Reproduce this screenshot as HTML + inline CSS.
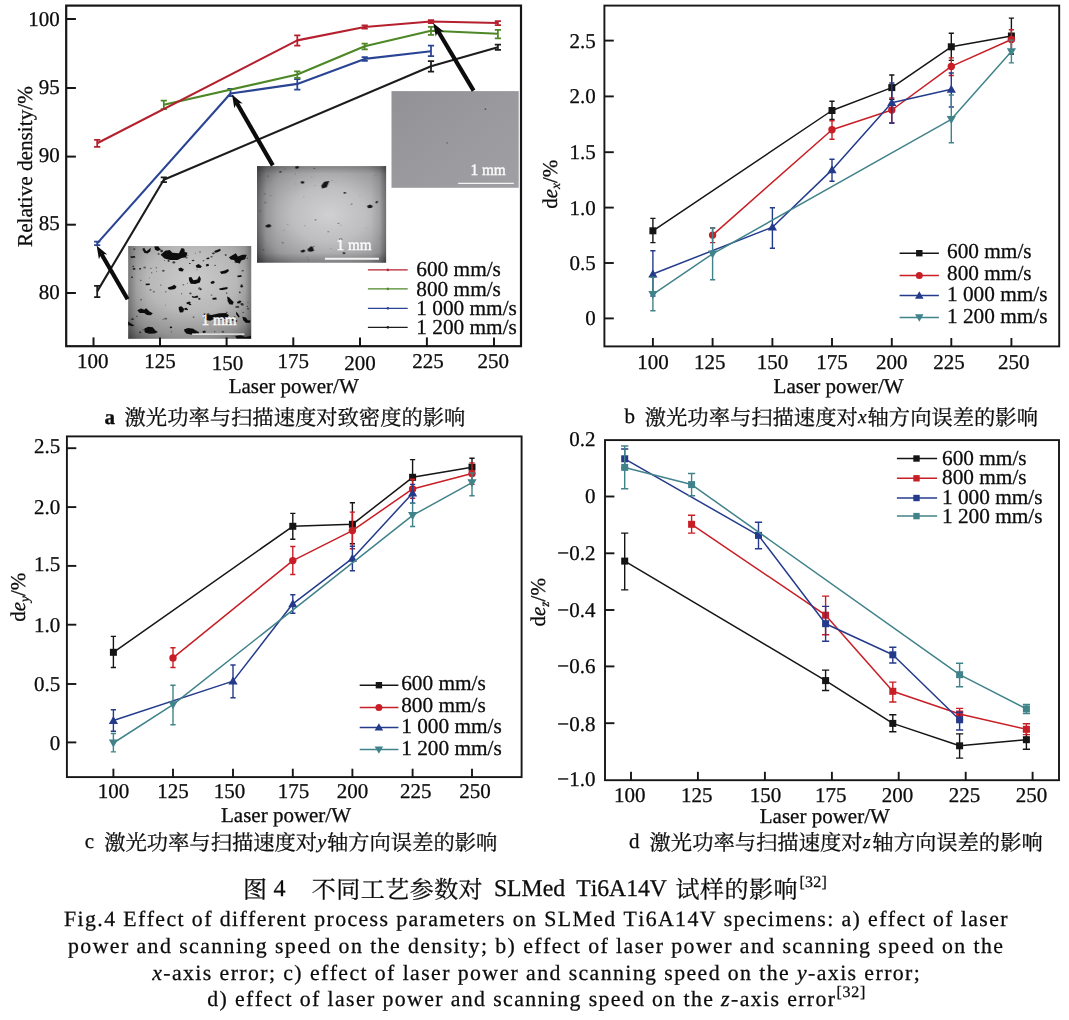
<!DOCTYPE html>
<html lang="zh">
<head>
<meta charset="utf-8">
<title>Fig.4 Effect of different process parameters on SLMed Ti6A14V specimens</title>
<style>
html,body{margin:0;padding:0;background:#ffffff;}
body{width:1069px;height:1020px;overflow:hidden;}
svg{display:block;}
svg text{font-family:"Liberation Serif","Noto Serif CJK SC",serif;fill:#0c0c0c;stroke:#0c0c0c;stroke-width:0.28px;text-rendering:geometricPrecision;font-kerning:none;}
</style>
</head>
<body>
<svg width="1069" height="1020" viewBox="0 0 1069 1020">
<rect width="1069" height="1020" fill="#ffffff"/>
<defs>
<radialGradient id="ig1" cx="0.52" cy="0.36" r="0.86"><stop offset="0" stop-color="#cbcbcb"/><stop offset="0.42" stop-color="#b8b8b8"/><stop offset="0.74" stop-color="#909090"/><stop offset="1" stop-color="#484848"/></radialGradient>
<radialGradient id="ig2" cx="0.56" cy="0.5" r="0.76"><stop offset="0" stop-color="#d0d0d2"/><stop offset="0.38" stop-color="#bebec0"/><stop offset="0.72" stop-color="#98989a"/><stop offset="1" stop-color="#5c5c5e"/></radialGradient>
<linearGradient id="ig3" x1="0" y1="0" x2="1" y2="1"><stop offset="0" stop-color="#929195"/><stop offset="0.5" stop-color="#9a999d"/><stop offset="1" stop-color="#a09fa3"/></linearGradient>
<linearGradient id="edgeh" x1="0" y1="0" x2="1" y2="0"><stop offset="0" stop-color="#000" stop-opacity="0.32"/><stop offset="0.07" stop-color="#000" stop-opacity="0.06"/><stop offset="0.16" stop-color="#000" stop-opacity="0"/><stop offset="0.88" stop-color="#000" stop-opacity="0"/><stop offset="0.95" stop-color="#000" stop-opacity="0.08"/><stop offset="1" stop-color="#000" stop-opacity="0.34"/></linearGradient>
<linearGradient id="edgev" x1="0" y1="0" x2="0" y2="1"><stop offset="0" stop-color="#000" stop-opacity="0.18"/><stop offset="0.08" stop-color="#000" stop-opacity="0"/><stop offset="0.9" stop-color="#000" stop-opacity="0"/><stop offset="1" stop-color="#000" stop-opacity="0.2"/></linearGradient>
<filter id="bl1" x="-5%" y="-5%" width="110%" height="110%"><feGaussianBlur stdDeviation="4.5"/></filter>
</defs>
<polyline fill="none" stroke="#1c1c1c" stroke-width="2.1" stroke-linejoin="round" points="97.2,291.4 163.8,179.8 431,66.2 497.9,47.2"/>
<path fill="none" stroke="#1c1c1c" stroke-width="1.75" d="M97.2 285.9V297.2M94.1 285.9H100.3M94.1 297.2H100.3"/>
<path fill="none" stroke="#1c1c1c" stroke-width="1.75" d="M163.8 177.4V182.2M160.7 177.4H166.9M160.7 182.2H166.9"/>
<path fill="none" stroke="#1c1c1c" stroke-width="1.75" d="M431 61.1V71.5M427.9 61.1H434.1M427.9 71.5H434.1"/>
<path fill="none" stroke="#1c1c1c" stroke-width="1.75" d="M497.9 44.6V49.8M494.8 44.6H501M494.8 49.8H501"/>
<polyline fill="none" stroke="#2a4494" stroke-width="2.1" stroke-linejoin="round" points="97.2,243.4 230.5,93.5 297.3,83.9 364.7,58.9 431,51.3"/>
<path fill="none" stroke="#2a4494" stroke-width="1.75" d="M97.2 241.6V245.2M94.1 241.6H100.3M94.1 245.2H100.3"/>
<path fill="none" stroke="#2a4494" stroke-width="1.75" d="M230.5 88.9V96.2M227.4 88.9H233.6M227.4 96.2H233.6"/>
<path fill="none" stroke="#2a4494" stroke-width="1.75" d="M297.3 79.2V89.5M294.2 79.2H300.4M294.2 89.5H300.4"/>
<path fill="none" stroke="#2a4494" stroke-width="1.75" d="M364.7 57.2V60.8M361.6 57.2H367.8M361.6 60.8H367.8"/>
<path fill="none" stroke="#2a4494" stroke-width="1.75" d="M431 45.6V56.2M427.9 45.6H434.1M427.9 56.2H434.1"/>
<polyline fill="none" stroke="#4d8726" stroke-width="2.1" stroke-linejoin="round" points="163.8,104.8 297.3,74.5 364.7,46.3 431,30.8 497.9,33.8"/>
<path fill="none" stroke="#4d8726" stroke-width="1.75" d="M163.8 100.6V109M160.7 100.6H166.9M160.7 109H166.9"/>
<path fill="none" stroke="#4d8726" stroke-width="1.75" d="M297.3 71.4V77.8M294.2 71.4H300.4M294.2 77.8H300.4"/>
<path fill="none" stroke="#4d8726" stroke-width="1.75" d="M364.7 43.5V49.3M361.6 43.5H367.8M361.6 49.3H367.8"/>
<path fill="none" stroke="#4d8726" stroke-width="1.75" d="M431 26.8V34.8M427.9 26.8H434.1M427.9 34.8H434.1"/>
<path fill="none" stroke="#4d8726" stroke-width="1.75" d="M497.9 29.8V38.4M494.8 29.8H501M494.8 38.4H501"/>
<polyline fill="none" stroke="#b5202e" stroke-width="2.1" stroke-linejoin="round" points="97.2,143.2 297.3,40.4 364.7,27 431,21.5 497.9,23"/>
<path fill="none" stroke="#b5202e" stroke-width="1.75" d="M97.2 139.8V146.8M94.1 139.8H100.3M94.1 146.8H100.3"/>
<path fill="none" stroke="#b5202e" stroke-width="1.75" d="M297.3 35.3V45.5M294.2 35.3H300.4M294.2 45.5H300.4"/>
<path fill="none" stroke="#b5202e" stroke-width="1.75" d="M364.7 25.4V28.6M361.6 25.4H367.8M361.6 28.6H367.8"/>
<path fill="none" stroke="#b5202e" stroke-width="1.75" d="M431 20V23M427.9 20H434.1M427.9 23H434.1"/>
<path fill="none" stroke="#b5202e" stroke-width="1.75" d="M497.9 21V25M494.8 21H501M494.8 25H501"/>
<g><rect x="128.2" y="246.0" width="123" height="92.8" fill="url(#ig1)"/><rect x="128.2" y="246.0" width="123" height="92.8" fill="url(#edgeh)" opacity="0.8"/><g transform="translate(120 235) scale(0.13096)" fill="#0d0d0d" filter="url(#bl1)"><path d="M310 150 L345 120 L380 115 L400 135 L450 140 L470 100 L490 105 L495 130 L515 135 L505 170 L470 175 L440 190 L380 190 L340 180 Z"/><path d="M170 105 L185 100 L200 125 L220 110 L235 95 L232 125 L210 142 L185 135 Z"/><path d="M262 88 L290 85 L312 110 L290 122 L268 112 Z"/><path d="M832 170 L865 150 L885 140 L900 165 L935 150 L968 150 L955 185 L925 195 L915 218 L885 210 L870 190 L845 188 Z"/><path d="M578 232 L600 222 L625 238 L615 252 L585 250 Z"/><path d="M445 258 L465 248 L488 262 L478 278 L452 275 Z"/><path d="M655 225 L675 220 L680 235 L660 240 Z"/><path d="M525 325 L545 320 L560 345 L590 340 L605 312 L618 335 L610 362 L575 375 L540 372 L528 350 Z"/><path d="M762 280 L800 272 L825 260 L832 275 L810 292 L775 298 Z"/><path d="M365 400 L395 392 L415 380 L432 395 L420 412 L385 418 L368 412 Z"/><path d="M692 358 L712 350 L725 360 L712 372 L695 372 Z"/><path d="M758 408 L795 400 L822 398 L820 412 L785 420 L762 420 Z"/><path d="M818 470 L835 478 L850 495 L868 512 L860 532 L835 528 L822 505 Z"/><path d="M893 512 L915 500 L928 505 L915 522 L897 524 Z"/><path d="M448 550 L470 545 L490 565 L482 590 L458 592 L450 572 Z"/><path d="M508 515 L530 508 L542 518 L528 528 L510 527 Z"/><path d="M490 560 L510 555 L515 568 L495 575 Z"/><path d="M132 575 L160 562 L185 570 L200 560 L225 585 L250 598 L235 612 L205 610 L185 595 L150 595 Z"/><path d="M640 600 L700 610 L760 598 L810 595 L832 612 L815 640 L770 645 L720 640 L690 655 L655 650 L640 625 Z"/><path d="M935 625 L960 630 L975 650 L998 655 L990 672 L960 670 L940 650 Z"/><path d="M185 715 L215 700 L250 705 L270 730 L290 740 L265 752 L225 755 L190 745 Z"/><path d="M488 722 L520 710 L560 715 L585 735 L605 740 L580 755 L545 760 L510 755 L495 740 Z"/><path d="M880 772 L920 765 L960 778 L1000 770 L1000 790 L890 790 Z"/><path d="M62 660 L90 680 L110 690 L95 696 L62 690 Z"/><path d="M95 255 L115 252 L118 264 L100 266 Z"/><path d="M78 165 L112 160 L118 172 L85 176 Z"/><path d="M720 122 L745 112 L765 105 L768 120 L745 132 L725 135 Z"/><path d="M548 465 L570 470 L590 462 L600 475 L575 482 L552 478 Z"/><path d="M195 372 L225 370 L228 382 L198 384 Z"/><path d="M705 482 L735 478 L738 492 L708 494 Z"/><path d="M885 585 L900 600 L915 625 L905 630 L888 608 Z"/><path d="M600 480 L615 485 L612 495 L598 492 Z"/><path d="M380 700 L395 698 L398 710 L382 712 Z"/><path d="M630 735 L650 730 L655 745 L635 748 Z"/><path d="M895 312 L925 305 L930 318 L900 322 Z"/><path d="M145 255 L160 252 L162 262 L147 264 Z"/><path d="M660 175 L680 172 L682 184 L662 186 Z"/><ellipse cx="371" cy="198" rx="7.3" ry="7" opacity="0.86"/><ellipse cx="161" cy="494" rx="7.0" ry="6" opacity="0.49"/><ellipse cx="458" cy="260" rx="8.0" ry="6" opacity="0.86"/><ellipse cx="188" cy="248" rx="10.3" ry="7" opacity="0.48"/><ellipse cx="611" cy="129" rx="4.1" ry="4" opacity="0.88"/><ellipse cx="340" cy="194" rx="4.4" ry="3" opacity="0.73"/><ellipse cx="699" cy="166" rx="9.1" ry="6" opacity="0.64"/><ellipse cx="576" cy="138" rx="4.5" ry="3" opacity="0.70"/><ellipse cx="562" cy="627" rx="7.3" ry="5" opacity="0.68"/><ellipse cx="349" cy="639" rx="11.4" ry="7" opacity="0.49"/><ellipse cx="350" cy="434" rx="6.3" ry="4" opacity="0.59"/><ellipse cx="972" cy="176" rx="5.7" ry="5" opacity="0.62"/><ellipse cx="929" cy="384" rx="7.4" ry="7" opacity="0.73"/><ellipse cx="797" cy="656" rx="6.2" ry="4" opacity="0.75"/><ellipse cx="606" cy="408" rx="9.7" ry="9" opacity="0.58"/><ellipse cx="713" cy="140" rx="10.9" ry="7" opacity="0.77"/><ellipse cx="984" cy="658" rx="6.3" ry="4" opacity="0.89"/><ellipse cx="393" cy="739" rx="4.5" ry="4" opacity="0.51"/><ellipse cx="129" cy="621" rx="6.4" ry="4" opacity="0.65"/><ellipse cx="914" cy="435" rx="5.4" ry="4" opacity="0.72"/><ellipse cx="883" cy="656" rx="13.0" ry="9" opacity="0.80"/><ellipse cx="978" cy="563" rx="8.8" ry="5" opacity="0.53"/><ellipse cx="236" cy="254" rx="4.0" ry="4" opacity="0.87"/><ellipse cx="242" cy="288" rx="5.3" ry="4" opacity="0.63"/><ellipse cx="593" cy="748" rx="11.8" ry="7" opacity="0.93"/><ellipse cx="674" cy="602" rx="8.6" ry="5" opacity="0.84"/><ellipse cx="875" cy="642" rx="6.6" ry="5" opacity="0.65"/><ellipse cx="516" cy="369" rx="4.2" ry="4" opacity="0.55"/><ellipse cx="224" cy="328" rx="3.2" ry="3" opacity="0.73"/><ellipse cx="566" cy="745" rx="6.1" ry="6" opacity="0.89"/><ellipse cx="637" cy="197" rx="7.1" ry="4" opacity="0.75"/><ellipse cx="509" cy="174" rx="9.0" ry="5" opacity="0.68"/><ellipse cx="518" cy="154" rx="4.8" ry="3" opacity="0.82"/><ellipse cx="513" cy="569" rx="6.1" ry="6" opacity="0.93"/><ellipse cx="558" cy="195" rx="10.4" ry="6" opacity="0.83"/><ellipse cx="348" cy="535" rx="4.7" ry="3" opacity="0.58"/><ellipse cx="411" cy="209" rx="10.6" ry="9" opacity="0.72"/><ellipse cx="535" cy="531" rx="9.9" ry="6" opacity="0.94"/><ellipse cx="855" cy="647" rx="11.9" ry="9" opacity="0.85"/><ellipse cx="258" cy="433" rx="7.2" ry="7" opacity="0.46"/><ellipse cx="331" cy="273" rx="10.4" ry="7" opacity="0.62"/><ellipse cx="815" cy="590" rx="7.1" ry="4" opacity="0.63"/><ellipse cx="277" cy="250" rx="5.1" ry="4" opacity="0.69"/><ellipse cx="977" cy="513" rx="4.2" ry="3" opacity="0.78"/><ellipse cx="807" cy="153" rx="7.7" ry="7" opacity="0.64"/><ellipse cx="726" cy="232" rx="5.4" ry="4" opacity="0.77"/><ellipse cx="154" cy="743" rx="9.2" ry="7" opacity="0.65"/><ellipse cx="941" cy="591" rx="7.2" ry="4" opacity="0.46"/><ellipse cx="616" cy="414" rx="7.8" ry="7" opacity="0.86"/><ellipse cx="972" cy="545" rx="4.5" ry="4" opacity="0.72"/><ellipse cx="95" cy="643" rx="10.6" ry="7" opacity="0.71"/><ellipse cx="929" cy="392" rx="10.4" ry="9" opacity="0.89"/><ellipse cx="101" cy="241" rx="7.2" ry="6" opacity="0.74"/><ellipse cx="312" cy="382" rx="4.2" ry="4" opacity="0.82"/><ellipse cx="896" cy="549" rx="15.5" ry="9" opacity="0.66"/><ellipse cx="915" cy="439" rx="6.7" ry="6" opacity="0.71"/><ellipse cx="874" cy="627" rx="6.0" ry="6" opacity="0.85"/><ellipse cx="233" cy="419" rx="7.7" ry="7" opacity="0.48"/><ellipse cx="699" cy="459" rx="8.1" ry="5" opacity="0.50"/><ellipse cx="588" cy="265" rx="4.1" ry="4" opacity="0.50"/><ellipse cx="489" cy="114" rx="4.1" ry="3" opacity="0.76"/><ellipse cx="538" cy="446" rx="8.6" ry="7" opacity="0.70"/><ellipse cx="814" cy="443" rx="6.2" ry="4" opacity="0.89"/><ellipse cx="937" cy="273" rx="10.3" ry="6" opacity="0.55"/><ellipse cx="484" cy="380" rx="6.8" ry="5" opacity="0.49"/><ellipse cx="295" cy="145" rx="8.7" ry="7" opacity="0.51"/><ellipse cx="786" cy="739" rx="10.7" ry="7" opacity="0.52"/><ellipse cx="883" cy="758" rx="6.4" ry="4" opacity="0.50"/><ellipse cx="885" cy="207" rx="11.7" ry="7" opacity="0.53"/><ellipse cx="470" cy="448" rx="5.3" ry="4" opacity="0.63"/><ellipse cx="159" cy="346" rx="5.8" ry="4" opacity="0.67"/><ellipse cx="92" cy="322" rx="7.4" ry="6" opacity="0.93"/><ellipse cx="178" cy="724" rx="7.1" ry="4" opacity="0.50"/><ellipse cx="318" cy="122" rx="10.3" ry="9" opacity="0.83"/><ellipse cx="825" cy="677" rx="11.6" ry="7" opacity="0.58"/><ellipse cx="212" cy="725" rx="8.4" ry="6" opacity="0.61"/><ellipse cx="330" cy="643" rx="5.4" ry="4" opacity="0.49"/><ellipse cx="934" cy="530" rx="10.9" ry="9" opacity="0.75"/><ellipse cx="279" cy="276" rx="4.1" ry="3" opacity="0.62"/><ellipse cx="581" cy="730" rx="6.0" ry="4" opacity="0.47"/><ellipse cx="724" cy="738" rx="4.8" ry="4" opacity="0.54"/><ellipse cx="928" cy="526" rx="9.6" ry="6" opacity="0.59"/><ellipse cx="533" cy="217" rx="6.6" ry="4" opacity="0.95"/><ellipse cx="109" cy="108" rx="8.6" ry="6" opacity="0.54"/><ellipse cx="509" cy="735" rx="4.6" ry="3" opacity="0.78"/></g><line x1="192" y1="334.1" x2="244.4" y2="334.1" stroke="#f4f4f4" stroke-width="1.4" /><text x="201.6" y="325.2" font-size="16" style="fill:#fafafa;stroke:#fafafa;stroke-width:0.45px" textLength="35" lengthAdjust="spacingAndGlyphs">1 mm</text></g>
<g><rect x="257.0" y="166.1" width="129.1" height="96.6" fill="url(#ig2)"/><rect x="257.0" y="166.1" width="129.1" height="96.6" fill="url(#edgeh)"/><rect x="257.0" y="166.1" width="129.1" height="96.6" fill="url(#edgev)"/><g transform="translate(250 160) scale(0.13565)" fill="#141414" filter="url(#bl1)"><path d="M525 190 L548 160 L585 155 L565 200 L532 210 Z"/><path d="M373 160 L392 154 L402 165 L390 174 L375 172 Z"/><path d="M333 50 L352 44 L362 54 L350 64 L336 62 Z"/><path d="M862 338 L885 328 L905 338 L898 352 L872 356 Z"/><path d="M113 482 L140 472 L156 482 L150 496 L120 498 Z"/><path d="M425 655 L450 636 L462 640 L472 668 L450 676 L428 672 Z"/><path d="M373 668 L395 660 L408 668 L398 680 L378 682 Z"/><path d="M218 82 L228 80 L230 92 L220 94 Z"/><path d="M925 310 L938 300 L944 308 L932 322 Z"/><path d="M690 238 L705 236 L707 246 L692 248 Z"/><path d="M660 580 L675 578 L677 590 L662 592 Z"/><path d="M685 680 L698 678 L700 692 L687 694 Z"/><ellipse cx="483" cy="441" rx="5.1" ry="4" opacity="0.73"/><ellipse cx="241" cy="610" rx="5.5" ry="4" opacity="0.70"/><ellipse cx="152" cy="264" rx="3.3" ry="2.5" opacity="0.75"/><ellipse cx="652" cy="466" rx="6.3" ry="4" opacity="0.63"/><ellipse cx="634" cy="164" rx="3.7" ry="2.5" opacity="0.33"/><ellipse cx="98" cy="662" rx="5.1" ry="5" opacity="0.53"/><ellipse cx="472" cy="636" rx="5.7" ry="5" opacity="0.45"/><ellipse cx="69" cy="114" rx="3.7" ry="3" opacity="0.58"/><ellipse cx="927" cy="112" rx="3.6" ry="3" opacity="0.41"/><ellipse cx="332" cy="103" rx="3.1" ry="2.5" opacity="0.72"/><ellipse cx="423" cy="716" rx="2.8" ry="2.5" opacity="0.76"/><ellipse cx="113" cy="314" rx="5.0" ry="4" opacity="0.58"/><ellipse cx="249" cy="521" rx="3.2" ry="3" opacity="0.47"/><ellipse cx="957" cy="578" rx="2.7" ry="2.5" opacity="0.65"/><ellipse cx="75" cy="376" rx="4.4" ry="4" opacity="0.58"/><ellipse cx="479" cy="187" rx="3.8" ry="3" opacity="0.49"/><ellipse cx="430" cy="738" rx="2.9" ry="2.5" opacity="0.79"/><ellipse cx="808" cy="265" rx="2.8" ry="2.5" opacity="0.50"/><ellipse cx="855" cy="498" rx="2.6" ry="2.5" opacity="0.37"/><ellipse cx="473" cy="62" rx="6.0" ry="5" opacity="0.45"/><ellipse cx="133" cy="117" rx="6.9" ry="5" opacity="0.31"/><ellipse cx="406" cy="484" rx="4.7" ry="3" opacity="0.54"/><ellipse cx="596" cy="653" rx="4.1" ry="3" opacity="0.46"/><ellipse cx="276" cy="476" rx="3.3" ry="3" opacity="0.61"/><ellipse cx="577" cy="529" rx="6.1" ry="4" opacity="0.60"/><ellipse cx="455" cy="127" rx="3.3" ry="2.5" opacity="0.43"/><ellipse cx="749" cy="325" rx="6.0" ry="4" opacity="0.60"/><ellipse cx="336" cy="176" rx="2.7" ry="2.5" opacity="0.54"/><ellipse cx="669" cy="480" rx="2.9" ry="2.5" opacity="0.76"/><ellipse cx="254" cy="66" rx="3.7" ry="3" opacity="0.42"/><ellipse cx="108" cy="250" rx="6.7" ry="5" opacity="0.37"/><ellipse cx="400" cy="670" rx="4.2" ry="3" opacity="0.65"/><ellipse cx="606" cy="152" rx="3.9" ry="2.5" opacity="0.54"/><ellipse cx="396" cy="270" rx="2.5" ry="2.5" opacity="0.62"/></g><line x1="324.9" y1="258.8" x2="378.9" y2="258.8" stroke="#f4f4f4" stroke-width="1.9" /><text x="336.6" y="249.6" font-size="16" style="fill:#fafafa;stroke:#fafafa;stroke-width:0.45px" textLength="35" lengthAdjust="spacingAndGlyphs">1 mm</text></g>
<g><rect x="391.5" y="91.1" width="127.2" height="96.7" fill="url(#ig3)"/><circle cx="485.4" cy="109.1" r="0.9" fill="#555"/><circle cx="447.1" cy="142.9" r="0.8" fill="#666"/><line x1="458.2" y1="183.3" x2="513.9" y2="183.3" stroke="#f4f4f4" stroke-width="1.3" /><text x="470.4" y="175.3" font-size="16" style="fill:#fafafa;stroke:#fafafa;stroke-width:0.45px" textLength="35.4" lengthAdjust="spacingAndGlyphs">1 mm</text></g>
<line x1="127.6" y1="299.3" x2="101.28" y2="253.71" stroke="#0c0c0c" stroke-width="4.2" /><path fill="#0c0c0c" d="M96.6 245.6 L107.26 254.46 L101.28 253.71 L98.94 259.26Z"/>
<line x1="272.8" y1="165.4" x2="236.67" y2="102.71" stroke="#0c0c0c" stroke-width="4.2" /><path fill="#0c0c0c" d="M232 94.6 L242.65 103.47 L236.67 102.71 L234.33 108.26Z"/>
<line x1="473.6" y1="90.6" x2="438" y2="31.03" stroke="#0c0c0c" stroke-width="4.2" /><path fill="#0c0c0c" d="M433.2 23 L443.99 31.7 L438 31.03 L435.75 36.62Z"/>
<rect x="66.2" y="5.6" width="454.8" height="340.6" fill="none" stroke="#161616" stroke-width="2.2"/>
<line x1="66.2" y1="19" x2="75.9" y2="19" stroke="#161616" stroke-width="2.0" />
<line x1="66.2" y1="88" x2="75.9" y2="88" stroke="#161616" stroke-width="2.0" />
<line x1="66.2" y1="156.6" x2="75.9" y2="156.6" stroke="#161616" stroke-width="2.0" />
<line x1="66.2" y1="224.7" x2="75.9" y2="224.7" stroke="#161616" stroke-width="2.0" />
<line x1="66.2" y1="293" x2="75.9" y2="293" stroke="#161616" stroke-width="2.0" />
<line x1="93.5" y1="346.2" x2="93.5" y2="337.4" stroke="#161616" stroke-width="2.0" />
<line x1="160" y1="346.2" x2="160" y2="337.4" stroke="#161616" stroke-width="2.0" />
<line x1="226.6" y1="346.2" x2="226.6" y2="337.4" stroke="#161616" stroke-width="2.0" />
<line x1="293.3" y1="346.2" x2="293.3" y2="337.4" stroke="#161616" stroke-width="2.0" />
<line x1="360" y1="346.2" x2="360" y2="337.4" stroke="#161616" stroke-width="2.0" />
<line x1="426.9" y1="346.2" x2="426.9" y2="337.4" stroke="#161616" stroke-width="2.0" />
<line x1="494" y1="346.2" x2="494" y2="337.4" stroke="#161616" stroke-width="2.0" />
<text x="59.8" y="25.6" font-size="21" text-anchor="end" >100</text>
<text x="59.8" y="93.7" font-size="21" text-anchor="end" >95</text>
<text x="59.8" y="162.4" font-size="21" text-anchor="end" >90</text>
<text x="59.8" y="230.2" font-size="21" text-anchor="end" >85</text>
<text x="59.8" y="298.8" font-size="21" text-anchor="end" >80</text>
<text x="92.7" y="368" font-size="21" text-anchor="middle" >100</text>
<text x="160" y="367.5" font-size="21" text-anchor="middle" >125</text>
<text x="227.5" y="369.6" font-size="21" text-anchor="middle" >150</text>
<text x="293.3" y="367.6" font-size="21" text-anchor="middle" >175</text>
<text x="360" y="369.5" font-size="21" text-anchor="middle" >200</text>
<text x="427.9" y="367.6" font-size="21" text-anchor="middle" >225</text>
<text x="493.2" y="368.2" font-size="21" text-anchor="middle" >250</text>
<text x="228.7" y="392.6" font-size="21" text-anchor="start" >Laser power/W</text>
<text transform="translate(31.9 247.0) rotate(-90)" font-size="21.2" textLength="160.8" lengthAdjust="spacingAndGlyphs">Relative density/%</text>
<line x1="367.9" y1="269.9" x2="407.7" y2="269.9" stroke="#b5202e" stroke-width="1.35" />
<rect x="386.8" y="268.7" width="2" height="2.4" fill="#b5202e"/>
<text x="416.3" y="276.4" font-size="21.3" text-anchor="start" >600 mm/s</text>
<line x1="367.9" y1="288.9" x2="407.7" y2="288.9" stroke="#4d8726" stroke-width="1.35" />
<rect x="386.8" y="287.7" width="2" height="2.4" fill="#4d8726"/>
<text x="416.3" y="295.6" font-size="21.3" text-anchor="start" >800 mm/s</text>
<line x1="367.9" y1="308.3" x2="407.7" y2="308.3" stroke="#2a4494" stroke-width="1.35" />
<rect x="386.8" y="307.1" width="2" height="2.4" fill="#2a4494"/>
<text x="416.3" y="314.8" font-size="21.3" text-anchor="start" >1 000 mm/s</text>
<line x1="367.9" y1="327.3" x2="407.7" y2="327.3" stroke="#1c1c1c" stroke-width="1.35" />
<rect x="386.8" y="326.1" width="2" height="2.4" fill="#1c1c1c"/>
<text x="416.3" y="334" font-size="21.3" text-anchor="start" >1 200 mm/s</text>
<polyline fill="none" stroke="#151515" stroke-width="1.5" stroke-linejoin="round" points="652.9,230.8 832,110.5 891.8,87.6 951.3,46.8 1011.4,36"/>
<rect x="649.4" y="227.3" width="7" height="7" fill="#151515"/>
<rect x="828.5" y="107" width="7" height="7" fill="#151515"/>
<rect x="888.3" y="84.1" width="7" height="7" fill="#151515"/>
<rect x="947.8" y="43.3" width="7" height="7" fill="#151515"/>
<rect x="1007.9" y="32.5" width="7" height="7" fill="#151515"/>
<path fill="none" stroke="#151515" stroke-width="1.4" d="M652.9 218.4V242.6M650.3 218.4H655.5M650.3 242.6H655.5"/>
<path fill="none" stroke="#151515" stroke-width="1.4" d="M832 101.2V119.5M829.4 101.2H834.6M829.4 119.5H834.6"/>
<path fill="none" stroke="#151515" stroke-width="1.4" d="M891.8 75V99.4M889.2 75H894.4M889.2 99.4H894.4"/>
<path fill="none" stroke="#151515" stroke-width="1.4" d="M951.3 33.2V60.4M948.7 33.2H953.9M948.7 60.4H953.9"/>
<path fill="none" stroke="#151515" stroke-width="1.4" d="M1011.4 18.1V54M1008.8 18.1H1014M1008.8 54H1014"/>
<polyline fill="none" stroke="#c81e25" stroke-width="1.5" stroke-linejoin="round" points="712.6,235.1 832,129.8 891.8,110 951.3,66.4 1011.4,39.5"/>
<circle cx="712.6" cy="235.1" r="3.7" fill="#c81e25"/>
<circle cx="832" cy="129.8" r="3.7" fill="#c81e25"/>
<circle cx="891.8" cy="110" r="3.7" fill="#c81e25"/>
<circle cx="951.3" cy="66.4" r="3.7" fill="#c81e25"/>
<circle cx="1011.4" cy="39.5" r="3.7" fill="#c81e25"/>
<path fill="none" stroke="#c81e25" stroke-width="1.4" d="M712.6 228V242.6M710 228H715.2M710 242.6H715.2"/>
<path fill="none" stroke="#c81e25" stroke-width="1.4" d="M832 120.8V139.2M829.4 120.8H834.6M829.4 139.2H834.6"/>
<path fill="none" stroke="#c81e25" stroke-width="1.4" d="M891.8 98V122.8M889.2 98H894.4M889.2 122.8H894.4"/>
<path fill="none" stroke="#c81e25" stroke-width="1.4" d="M951.3 57.9V75.5M948.7 57.9H953.9M948.7 75.5H953.9"/>
<path fill="none" stroke="#c81e25" stroke-width="1.4" d="M1011.4 29.7V50.3M1008.8 29.7H1014M1008.8 50.3H1014"/>
<polyline fill="none" stroke="#243b8c" stroke-width="1.5" stroke-linejoin="round" points="652.9,274 772.4,227.2 832,169.9 891.8,102.7 951.3,89.3"/>
<path fill="#243b8c" d="M652.9 269.4L657.5 277.4H648.3Z"/>
<path fill="#243b8c" d="M772.4 222.6L777 230.6H767.8Z"/>
<path fill="#243b8c" d="M832 165.3L836.6 173.3H827.4Z"/>
<path fill="#243b8c" d="M891.8 98.1L896.4 106.1H887.2Z"/>
<path fill="#243b8c" d="M951.3 84.7L955.9 92.7H946.7Z"/>
<path fill="none" stroke="#243b8c" stroke-width="1.4" d="M652.9 250.7V296M650.3 250.7H655.5M650.3 296H655.5"/>
<path fill="none" stroke="#243b8c" stroke-width="1.4" d="M772.4 207.8V248.2M769.8 207.8H775M769.8 248.2H775"/>
<path fill="none" stroke="#243b8c" stroke-width="1.4" d="M832 159.3V181.2M829.4 159.3H834.6M829.4 181.2H834.6"/>
<path fill="none" stroke="#243b8c" stroke-width="1.4" d="M891.8 83V123.3M889.2 83H894.4M889.2 123.3H894.4"/>
<path fill="none" stroke="#243b8c" stroke-width="1.4" d="M951.3 73V107M948.7 73H953.9M948.7 107H953.9"/>
<polyline fill="none" stroke="#41838a" stroke-width="1.5" stroke-linejoin="round" points="652.9,294.4 712.6,253.8 951.3,119.3 1011.4,51.6"/>
<path fill="#41838a" d="M652.9 299L657.5 291H648.3Z"/>
<path fill="#41838a" d="M712.6 258.4L717.2 250.4H708Z"/>
<path fill="#41838a" d="M951.3 123.9L955.9 115.9H946.7Z"/>
<path fill="#41838a" d="M1011.4 56.2L1016 48.2H1006.8Z"/>
<path fill="none" stroke="#41838a" stroke-width="1.4" d="M652.9 277.2V310.8M650.3 277.2H655.5M650.3 310.8H655.5"/>
<path fill="none" stroke="#41838a" stroke-width="1.4" d="M712.6 228V279.8M710 228H715.2M710 279.8H715.2"/>
<path fill="none" stroke="#41838a" stroke-width="1.4" d="M951.3 95V142.7M948.7 95H953.9M948.7 142.7H953.9"/>
<path fill="none" stroke="#41838a" stroke-width="1.4" d="M1011.4 40.3V62.9M1008.8 40.3H1014M1008.8 62.9H1014"/>
<rect x="604.4" y="5.6" width="454.8" height="340.8" fill="none" stroke="#161616" stroke-width="1.9"/>
<line x1="604.4" y1="40.6" x2="613.8" y2="40.6" stroke="#161616" stroke-width="1.9" />
<line x1="604.4" y1="96.4" x2="613.8" y2="96.4" stroke="#161616" stroke-width="1.9" />
<line x1="604.4" y1="152.2" x2="613.8" y2="152.2" stroke="#161616" stroke-width="1.9" />
<line x1="604.4" y1="207.6" x2="613.8" y2="207.6" stroke="#161616" stroke-width="1.9" />
<line x1="604.4" y1="263" x2="613.8" y2="263" stroke="#161616" stroke-width="1.9" />
<line x1="604.4" y1="318.4" x2="613.8" y2="318.4" stroke="#161616" stroke-width="1.9" />
<line x1="652.9" y1="346.4" x2="652.9" y2="338" stroke="#161616" stroke-width="1.9" />
<line x1="712.6" y1="346.4" x2="712.6" y2="338" stroke="#161616" stroke-width="1.9" />
<line x1="772.4" y1="346.4" x2="772.4" y2="338" stroke="#161616" stroke-width="1.9" />
<line x1="832" y1="346.4" x2="832" y2="338" stroke="#161616" stroke-width="1.9" />
<line x1="891.8" y1="346.4" x2="891.8" y2="338" stroke="#161616" stroke-width="1.9" />
<line x1="951.3" y1="346.4" x2="951.3" y2="338" stroke="#161616" stroke-width="1.9" />
<line x1="1011.4" y1="346.4" x2="1011.4" y2="338" stroke="#161616" stroke-width="1.9" />
<text x="595.8" y="47.6" font-size="21" text-anchor="end" >2.5</text>
<text x="595.8" y="103.4" font-size="21" text-anchor="end" >2.0</text>
<text x="595.8" y="159.2" font-size="21" text-anchor="end" >1.5</text>
<text x="595.8" y="214.6" font-size="21" text-anchor="end" >1.0</text>
<text x="595.8" y="270" font-size="21" text-anchor="end" >0.5</text>
<text x="595.8" y="325.4" font-size="21" text-anchor="end" >0</text>
<text x="652.9" y="368.8" font-size="21" text-anchor="middle" >100</text>
<text x="709.8" y="368.8" font-size="21" text-anchor="middle" >125</text>
<text x="772.4" y="368.8" font-size="21" text-anchor="middle" >150</text>
<text x="832" y="368.8" font-size="21" text-anchor="middle" >175</text>
<text x="891.8" y="368.8" font-size="21" text-anchor="middle" >200</text>
<text x="948.9" y="368.8" font-size="21" text-anchor="middle" >225</text>
<text x="1013.8" y="368.8" font-size="21" text-anchor="middle" >250</text>
<text x="773.6" y="392.8" font-size="21" text-anchor="start" >Laser power/W</text>
<text transform="translate(557 208.8) rotate(-90)" font-size="21">d<tspan font-style="italic">e</tspan><tspan font-style="italic" font-size="13.5" dy="3.4">x</tspan><tspan dy="-3.4">/%</tspan></text>
<line x1="899.6" y1="253.2" x2="938.9" y2="253.2" stroke="#151515" stroke-width="1.5" />
<rect x="916.1" y="250" width="6.4" height="6.4" fill="#151515"/>
<text x="947" y="258.2" font-size="21.3" text-anchor="start" >600 mm/s</text>
<line x1="899.6" y1="275.6" x2="938.9" y2="275.6" stroke="#c81e25" stroke-width="1.5" />
<circle cx="919.3" cy="275.6" r="3.5" fill="#c81e25"/>
<text x="947" y="280" font-size="21.3" text-anchor="start" >800 mm/s</text>
<line x1="899.6" y1="295.5" x2="938.9" y2="295.5" stroke="#243b8c" stroke-width="1.5" />
<path fill="#243b8c" d="M919.3 291.25L923.55 298.64H915.04Z"/>
<text x="947" y="301.4" font-size="21.3" text-anchor="start" >1 000 mm/s</text>
<line x1="899.6" y1="317.4" x2="938.9" y2="317.4" stroke="#41838a" stroke-width="1.5" />
<path fill="#41838a" d="M919.3 321.65L923.55 314.25H915.04Z"/>
<text x="947" y="322.8" font-size="21.3" text-anchor="start" >1 200 mm/s</text>
<polyline fill="none" stroke="#151515" stroke-width="1.5" stroke-linejoin="round" points="113.4,652.3 292.8,526.3 352.4,524.3 412.6,477.3 472,467.2"/>
<rect x="109.9" y="648.8" width="7" height="7" fill="#151515"/>
<rect x="289.3" y="522.8" width="7" height="7" fill="#151515"/>
<rect x="348.9" y="520.8" width="7" height="7" fill="#151515"/>
<rect x="409.1" y="473.8" width="7" height="7" fill="#151515"/>
<rect x="468.5" y="463.7" width="7" height="7" fill="#151515"/>
<path fill="none" stroke="#151515" stroke-width="1.4" d="M113.4 636.4V667.5M110.8 636.4H116M110.8 667.5H116"/>
<path fill="none" stroke="#151515" stroke-width="1.4" d="M292.8 513.4V539.2M290.2 513.4H295.4M290.2 539.2H295.4"/>
<path fill="none" stroke="#151515" stroke-width="1.4" d="M352.4 502.8V543.7M349.8 502.8H355M349.8 543.7H355"/>
<path fill="none" stroke="#151515" stroke-width="1.4" d="M412.6 459.6V494.5M410 459.6H415.2M410 494.5H415.2"/>
<path fill="none" stroke="#151515" stroke-width="1.4" d="M472 458.3V475.5M469.4 458.3H474.6M469.4 475.5H474.6"/>
<polyline fill="none" stroke="#c81e25" stroke-width="1.5" stroke-linejoin="round" points="173,657.9 292.8,560.6 352.4,530.6 412.6,488.9 472,473.5"/>
<circle cx="173" cy="657.9" r="3.7" fill="#c81e25"/>
<circle cx="292.8" cy="560.6" r="3.7" fill="#c81e25"/>
<circle cx="352.4" cy="530.6" r="3.7" fill="#c81e25"/>
<circle cx="412.6" cy="488.9" r="3.7" fill="#c81e25"/>
<circle cx="472" cy="473.5" r="3.7" fill="#c81e25"/>
<path fill="none" stroke="#c81e25" stroke-width="1.4" d="M173 647.8V667.5M170.4 647.8H175.6M170.4 667.5H175.6"/>
<path fill="none" stroke="#c81e25" stroke-width="1.4" d="M292.8 546.5V574.5M290.2 546.5H295.4M290.2 574.5H295.4"/>
<path fill="none" stroke="#c81e25" stroke-width="1.4" d="M352.4 512.1V548.8M349.8 512.1H355M349.8 548.8H355"/>
<path fill="none" stroke="#c81e25" stroke-width="1.4" d="M412.6 479.3V498.2M410 479.3H415.2M410 498.2H415.2"/>
<path fill="none" stroke="#c81e25" stroke-width="1.4" d="M472 462.9V484.4M469.4 462.9H474.6M469.4 484.4H474.6"/>
<polyline fill="none" stroke="#243b8c" stroke-width="1.5" stroke-linejoin="round" points="113.4,720.5 233,681.1 292.8,603.8 352.4,558.4 412.6,493.2"/>
<path fill="#243b8c" d="M113.4 715.9L118 723.9H108.8Z"/>
<path fill="#243b8c" d="M233 676.5L237.6 684.5H228.4Z"/>
<path fill="#243b8c" d="M292.8 599.2L297.4 607.2H288.2Z"/>
<path fill="#243b8c" d="M352.4 553.8L357 561.8H347.8Z"/>
<path fill="#243b8c" d="M412.6 488.6L417.2 496.6H408Z"/>
<path fill="none" stroke="#243b8c" stroke-width="1.4" d="M113.4 709.7V731.2M110.8 709.7H116M110.8 731.2H116"/>
<path fill="none" stroke="#243b8c" stroke-width="1.4" d="M233 665V697.8M230.4 665H235.6M230.4 697.8H235.6"/>
<path fill="none" stroke="#243b8c" stroke-width="1.4" d="M292.8 594.7V613.2M290.2 594.7H295.4M290.2 613.2H295.4"/>
<path fill="none" stroke="#243b8c" stroke-width="1.4" d="M352.4 546.2V570.7M349.8 546.2H355M349.8 570.7H355"/>
<path fill="none" stroke="#243b8c" stroke-width="1.4" d="M412.6 484.4V503.3M410 484.4H415.2M410 503.3H415.2"/>
<polyline fill="none" stroke="#41838a" stroke-width="1.5" stroke-linejoin="round" points="113.4,743 173,704.6 412.6,515.4 472,482.6"/>
<path fill="#41838a" d="M113.4 747.6L118 739.6H108.8Z"/>
<path fill="#41838a" d="M173 709.2L177.6 701.2H168.4Z"/>
<path fill="#41838a" d="M412.6 520L417.2 512H408Z"/>
<path fill="#41838a" d="M472 487.2L476.6 479.2H467.4Z"/>
<path fill="none" stroke="#41838a" stroke-width="1.4" d="M113.4 733.5V751.9M110.8 733.5H116M110.8 751.9H116"/>
<path fill="none" stroke="#41838a" stroke-width="1.4" d="M173 685.2V724.8M170.4 685.2H175.6M170.4 724.8H175.6"/>
<path fill="none" stroke="#41838a" stroke-width="1.4" d="M412.6 503.3V526.5M410 503.3H415.2M410 526.5H415.2"/>
<path fill="none" stroke="#41838a" stroke-width="1.4" d="M472 473V495.7M469.4 473H474.6M469.4 495.7H474.6"/>
<rect x="66.9" y="436.4" width="454.7" height="340.7" fill="none" stroke="#161616" stroke-width="1.9"/>
<line x1="66.9" y1="448.2" x2="76.3" y2="448.2" stroke="#161616" stroke-width="1.9" />
<line x1="66.9" y1="507.1" x2="76.3" y2="507.1" stroke="#161616" stroke-width="1.9" />
<line x1="66.9" y1="565.9" x2="76.3" y2="565.9" stroke="#161616" stroke-width="1.9" />
<line x1="66.9" y1="624.7" x2="76.3" y2="624.7" stroke="#161616" stroke-width="1.9" />
<line x1="66.9" y1="684" x2="76.3" y2="684" stroke="#161616" stroke-width="1.9" />
<line x1="66.9" y1="742.4" x2="76.3" y2="742.4" stroke="#161616" stroke-width="1.9" />
<line x1="113.4" y1="777.1" x2="113.4" y2="768.7" stroke="#161616" stroke-width="1.9" />
<line x1="173" y1="777.1" x2="173" y2="768.7" stroke="#161616" stroke-width="1.9" />
<line x1="233" y1="777.1" x2="233" y2="768.7" stroke="#161616" stroke-width="1.9" />
<line x1="292.8" y1="777.1" x2="292.8" y2="768.7" stroke="#161616" stroke-width="1.9" />
<line x1="352.4" y1="777.1" x2="352.4" y2="768.7" stroke="#161616" stroke-width="1.9" />
<line x1="412.6" y1="777.1" x2="412.6" y2="768.7" stroke="#161616" stroke-width="1.9" />
<line x1="472" y1="777.1" x2="472" y2="768.7" stroke="#161616" stroke-width="1.9" />
<text x="60.2" y="453.4" font-size="21" text-anchor="end" >2.5</text>
<text x="60.2" y="514.4" font-size="21" text-anchor="end" >2.0</text>
<text x="60.2" y="571" font-size="21" text-anchor="end" >1.5</text>
<text x="60.2" y="632.4" font-size="21" text-anchor="end" >1.0</text>
<text x="60.2" y="691" font-size="21" text-anchor="end" >0.5</text>
<text x="60.2" y="749.6" font-size="21" text-anchor="end" >0</text>
<text x="113.4" y="797.6" font-size="21" text-anchor="middle" >100</text>
<text x="173" y="797.6" font-size="21" text-anchor="middle" >125</text>
<text x="229.6" y="797.6" font-size="21" text-anchor="middle" >150</text>
<text x="293.6" y="797.6" font-size="21" text-anchor="middle" >175</text>
<text x="352.4" y="797.6" font-size="21" text-anchor="middle" >200</text>
<text x="415.8" y="797.6" font-size="21" text-anchor="middle" >225</text>
<text x="475" y="797.6" font-size="21" text-anchor="middle" >250</text>
<text x="221" y="821.6" font-size="21" text-anchor="start" >Laser power/W</text>
<text transform="translate(25.3 621.8) rotate(-90)" font-size="21">d<tspan font-style="italic">e</tspan><tspan font-style="italic" font-size="13.5" dy="3.4">y</tspan><tspan dy="-3.4">/%</tspan></text>
<line x1="359.7" y1="685.2" x2="398.4" y2="685.2" stroke="#151515" stroke-width="1.5" />
<rect x="375.7" y="682" width="6.4" height="6.4" fill="#151515"/>
<text x="401.2" y="690.2" font-size="21.3" text-anchor="start" >600 mm/s</text>
<line x1="359.7" y1="707.4" x2="398.4" y2="707.4" stroke="#c81e25" stroke-width="1.5" />
<circle cx="378.9" cy="707.4" r="3.5" fill="#c81e25"/>
<text x="401.2" y="711.8" font-size="21.3" text-anchor="start" >800 mm/s</text>
<line x1="359.7" y1="727.4" x2="398.4" y2="727.4" stroke="#243b8c" stroke-width="1.5" />
<path fill="#243b8c" d="M378.9 723.14L383.15 730.54H374.64Z"/>
<text x="401.2" y="733.3" font-size="21.3" text-anchor="start" >1 000 mm/s</text>
<line x1="359.7" y1="749.6" x2="398.4" y2="749.6" stroke="#41838a" stroke-width="1.5" />
<path fill="#41838a" d="M378.9 753.86L383.15 746.46H374.64Z"/>
<text x="401.2" y="755.2" font-size="21.3" text-anchor="start" >1 200 mm/s</text>
<polyline fill="none" stroke="#151515" stroke-width="1.5" stroke-linejoin="round" points="624.7,561.1 825.6,680.6 892.8,723.4 959.6,745.8 1026.4,739.7"/>
<rect x="621.2" y="557.6" width="7" height="7" fill="#151515"/>
<rect x="822.1" y="677.1" width="7" height="7" fill="#151515"/>
<rect x="889.3" y="719.9" width="7" height="7" fill="#151515"/>
<rect x="956.1" y="742.3" width="7" height="7" fill="#151515"/>
<rect x="1022.9" y="736.2" width="7" height="7" fill="#151515"/>
<path fill="none" stroke="#151515" stroke-width="1.4" d="M624.7 533.1V589.9M621.1 533.1H628.3M621.1 589.9H628.3"/>
<path fill="none" stroke="#151515" stroke-width="1.4" d="M825.6 670.1V690.5M822 670.1H829.2M822 690.5H829.2"/>
<path fill="none" stroke="#151515" stroke-width="1.4" d="M892.8 714.7V731.8M889.2 714.7H896.4M889.2 731.8H896.4"/>
<path fill="none" stroke="#151515" stroke-width="1.4" d="M959.6 733.9V758.1M956 733.9H963.2M956 758.1H963.2"/>
<path fill="none" stroke="#151515" stroke-width="1.4" d="M1026.4 731.3V749.2M1022.8 731.3H1030M1022.8 749.2H1030"/>
<polyline fill="none" stroke="#c81e25" stroke-width="1.5" stroke-linejoin="round" points="691.6,524.3 825.6,615.2 892.8,691.3 959.6,714 1026.4,729.3"/>
<rect x="688.1" y="520.8" width="7" height="7" fill="#c81e25"/>
<rect x="822.1" y="611.7" width="7" height="7" fill="#c81e25"/>
<rect x="889.3" y="687.8" width="7" height="7" fill="#c81e25"/>
<rect x="956.1" y="710.5" width="7" height="7" fill="#c81e25"/>
<rect x="1022.9" y="725.8" width="7" height="7" fill="#c81e25"/>
<path fill="none" stroke="#c81e25" stroke-width="1.4" d="M691.6 515.2V533.1M688 515.2H695.2M688 533.1H695.2"/>
<path fill="none" stroke="#c81e25" stroke-width="1.4" d="M825.6 596.1V634.8M822 596.1H829.2M822 634.8H829.2"/>
<path fill="none" stroke="#c81e25" stroke-width="1.4" d="M892.8 682.1V702M889.2 682.1H896.4M889.2 702H896.4"/>
<path fill="none" stroke="#c81e25" stroke-width="1.4" d="M959.6 708.4V719.8M956 708.4H963.2M956 719.8H963.2"/>
<path fill="none" stroke="#c81e25" stroke-width="1.4" d="M1026.4 723.7V734.6M1022.8 723.7H1030M1022.8 734.6H1030"/>
<polyline fill="none" stroke="#243b8c" stroke-width="1.5" stroke-linejoin="round" points="624.7,458.8 758.5,535.4 825.6,623.7 892.8,654.8 959.6,719.8"/>
<rect x="621.2" y="455.3" width="7" height="7" fill="#243b8c"/>
<rect x="755" y="531.9" width="7" height="7" fill="#243b8c"/>
<rect x="822.1" y="620.2" width="7" height="7" fill="#243b8c"/>
<rect x="889.3" y="651.3" width="7" height="7" fill="#243b8c"/>
<rect x="956.1" y="716.3" width="7" height="7" fill="#243b8c"/>
<path fill="none" stroke="#243b8c" stroke-width="1.4" d="M624.7 449V468M621.1 449H628.3M621.1 468H628.3"/>
<path fill="none" stroke="#243b8c" stroke-width="1.4" d="M758.5 522.2V548.8M754.9 522.2H762.1M754.9 548.8H762.1"/>
<path fill="none" stroke="#243b8c" stroke-width="1.4" d="M825.6 606.4V641.3M822 606.4H829.2M822 641.3H829.2"/>
<path fill="none" stroke="#243b8c" stroke-width="1.4" d="M892.8 647.2V663M889.2 647.2H896.4M889.2 663H896.4"/>
<path fill="none" stroke="#243b8c" stroke-width="1.4" d="M959.6 712.2V730M956 712.2H963.2M956 730H963.2"/>
<polyline fill="none" stroke="#41838a" stroke-width="1.5" stroke-linejoin="round" points="624.7,467.4 691.6,484.6 959.6,674.7 1026.4,708.9"/>
<rect x="621.2" y="463.9" width="7" height="7" fill="#41838a"/>
<rect x="688.1" y="481.1" width="7" height="7" fill="#41838a"/>
<rect x="956.1" y="671.2" width="7" height="7" fill="#41838a"/>
<rect x="1022.9" y="705.4" width="7" height="7" fill="#41838a"/>
<path fill="none" stroke="#41838a" stroke-width="1.4" d="M624.7 446V488.7M621.1 446H628.3M621.1 488.7H628.3"/>
<path fill="none" stroke="#41838a" stroke-width="1.4" d="M691.6 473.5V495.7M688 473.5H695.2M688 495.7H695.2"/>
<path fill="none" stroke="#41838a" stroke-width="1.4" d="M959.6 663.2V686.7M956 663.2H963.2M956 686.7H963.2"/>
<path fill="none" stroke="#41838a" stroke-width="1.4" d="M1026.4 704.5V713.5M1022.8 704.5H1030M1022.8 713.5H1030"/>
<rect x="605.0" y="440.1" width="454" height="340.1" fill="none" stroke="#161616" stroke-width="1.9"/>
<line x1="605" y1="496.5" x2="614.4" y2="496.5" stroke="#161616" stroke-width="1.9" />
<line x1="605" y1="553.3" x2="614.4" y2="553.3" stroke="#161616" stroke-width="1.9" />
<line x1="605" y1="610" x2="614.4" y2="610" stroke="#161616" stroke-width="1.9" />
<line x1="605" y1="666.4" x2="614.4" y2="666.4" stroke="#161616" stroke-width="1.9" />
<line x1="605" y1="723.2" x2="614.4" y2="723.2" stroke="#161616" stroke-width="1.9" />
<line x1="631" y1="780.2" x2="631" y2="771.8" stroke="#161616" stroke-width="1.9" />
<line x1="697.9" y1="780.2" x2="697.9" y2="771.8" stroke="#161616" stroke-width="1.9" />
<line x1="764.9" y1="780.2" x2="764.9" y2="771.8" stroke="#161616" stroke-width="1.9" />
<line x1="831.9" y1="780.2" x2="831.9" y2="771.8" stroke="#161616" stroke-width="1.9" />
<line x1="898.7" y1="780.2" x2="898.7" y2="771.8" stroke="#161616" stroke-width="1.9" />
<line x1="965.7" y1="780.2" x2="965.7" y2="771.8" stroke="#161616" stroke-width="1.9" />
<line x1="1032.6" y1="780.2" x2="1032.6" y2="771.8" stroke="#161616" stroke-width="1.9" />
<text x="595.4" y="446" font-size="21" text-anchor="end" >0.2</text>
<text x="595.4" y="502.8" font-size="21" text-anchor="end" >0</text>
<text x="595.4" y="559.6" font-size="21" text-anchor="end" >−0.2</text>
<text x="595.4" y="617" font-size="21" text-anchor="end" >−0.4</text>
<text x="595.4" y="673.2" font-size="21" text-anchor="end" >−0.6</text>
<text x="595.4" y="730.8" font-size="21" text-anchor="end" >−0.8</text>
<text x="595.4" y="786.4" font-size="21" text-anchor="end" >−1.0</text>
<text x="629.8" y="801.8" font-size="21" text-anchor="middle" >100</text>
<text x="696.7" y="801.8" font-size="21" text-anchor="middle" >125</text>
<text x="765.4" y="801.8" font-size="21" text-anchor="middle" >150</text>
<text x="830.7" y="801.8" font-size="21" text-anchor="middle" >175</text>
<text x="897.5" y="801.8" font-size="21" text-anchor="middle" >200</text>
<text x="964.5" y="801.8" font-size="21" text-anchor="middle" >225</text>
<text x="1031.4" y="801.8" font-size="21" text-anchor="middle" >250</text>
<text x="759.8" y="823.4" font-size="21" text-anchor="start" >Laser power/W</text>
<text transform="translate(545.3 626.5) rotate(-90)" font-size="21">d<tspan font-style="italic">e</tspan><tspan font-style="italic" font-size="13.5" dy="3.4">z</tspan><tspan dy="-3.4">/%</tspan></text>
<line x1="896.9" y1="458.5" x2="937.1" y2="458.5" stroke="#151515" stroke-width="1.5" />
<rect x="913.3" y="455.3" width="6.4" height="6.4" fill="#151515"/>
<text x="942" y="464.6" font-size="21.3" text-anchor="start" >600 mm/s</text>
<line x1="896.9" y1="478.3" x2="937.1" y2="478.3" stroke="#c81e25" stroke-width="1.5" />
<rect x="913.3" y="475.1" width="6.4" height="6.4" fill="#c81e25"/>
<text x="942" y="484.2" font-size="21.3" text-anchor="start" >800 mm/s</text>
<line x1="896.9" y1="498" x2="937.1" y2="498" stroke="#243b8c" stroke-width="1.5" />
<rect x="913.3" y="494.8" width="6.4" height="6.4" fill="#243b8c"/>
<text x="942" y="503.6" font-size="21.3" text-anchor="start" >1 000 mm/s</text>
<line x1="896.9" y1="516.1" x2="937.1" y2="516.1" stroke="#41838a" stroke-width="1.5" />
<rect x="913.3" y="512.9" width="6.4" height="6.4" fill="#41838a"/>
<text x="942" y="522.5" font-size="21.3" text-anchor="start" >1 200 mm/s</text>
<g><text x="104.6" y="423.6" font-size="21" text-anchor="start" font-weight="bold">a</text><text x="124.55" y="425.2" font-size="21.3" textLength="340.8" lengthAdjust="spacing">激光功率与扫描速度对致密度的影响</text></g>
<g><text x="624.6" y="423.2" font-size="21" text-anchor="start" >b</text><text x="644.75" y="424.8" font-size="21.3" textLength="213" lengthAdjust="spacing">激光功率与扫描速度对</text><text x="858.1" y="423.2" font-size="19.5" font-style="italic">x</text><text x="867.55" y="424.8" font-size="21.3" textLength="170.4" lengthAdjust="spacing">轴方向误差的影响</text></g>
<g><text x="84.8" y="848.4" font-size="21" text-anchor="start" >c</text><text x="104.15" y="850" font-size="21.3" textLength="213" lengthAdjust="spacing">激光功率与扫描速度对</text><text x="317.5" y="848.4" font-size="19.5" font-style="italic">y</text><text x="326.95" y="850" font-size="21.3" textLength="170.4" lengthAdjust="spacing">轴方向误差的影响</text></g>
<g><text x="629" y="848" font-size="21" text-anchor="start" >d</text><text x="649.55" y="849.6" font-size="21.3" textLength="213" lengthAdjust="spacing">激光功率与扫描速度对</text><text x="862.9" y="848" font-size="19.5" font-style="italic">z</text><text x="872.35" y="849.6" font-size="21.3" textLength="170.4" lengthAdjust="spacing">轴方向误差的影响</text></g>
<g>
<text x="242.9" y="897.8" font-size="24">图</text>
<text x="273.4" y="896" font-size="24" text-anchor="start" >4</text>
<text x="311.8" y="897.8" font-size="24" textLength="170.8" lengthAdjust="spacing">不同工艺参数对</text>
<text x="493.9" y="896.0" font-size="24" textLength="71.2" lengthAdjust="spacingAndGlyphs">SLMed</text>
<text x="576.2" y="896.0" font-size="24" textLength="90.8" lengthAdjust="spacingAndGlyphs">Ti6A14V</text>
<text x="675.4" y="897.8" font-size="24" textLength="122" lengthAdjust="spacing">试样的影响</text>
<text x="799.6" y="886.6" font-size="16" textLength="27.2" lengthAdjust="spacing">[32]</text>
</g>
<text x="64.0" y="926.1" font-size="21.8" letter-spacing="1.405">Fig.4 Effect of different process parameters on SLMed Ti6A14V specimens: a) effect of laser</text>
<text x="68.0" y="953.2" font-size="21.8" letter-spacing="1.43">power and scanning speed on the density; b) effect of laser power and scanning speed on the</text>
<text x="152.2" y="980.0" font-size="21.8" letter-spacing="1.41"><tspan font-style="italic">x</tspan>-axis error; c) effect of laser power and scanning speed on the <tspan font-style="italic">y</tspan>-axis error;</text>
<text x="207.2" y="1006.0" font-size="21.8" letter-spacing="1.39">d) effect of laser power and scanning speed on the <tspan font-style="italic">z</tspan>-axis error<tspan font-size="16" dy="-8.6" letter-spacing="0.7">[32]</tspan></text>
</svg>
</body>
</html>
